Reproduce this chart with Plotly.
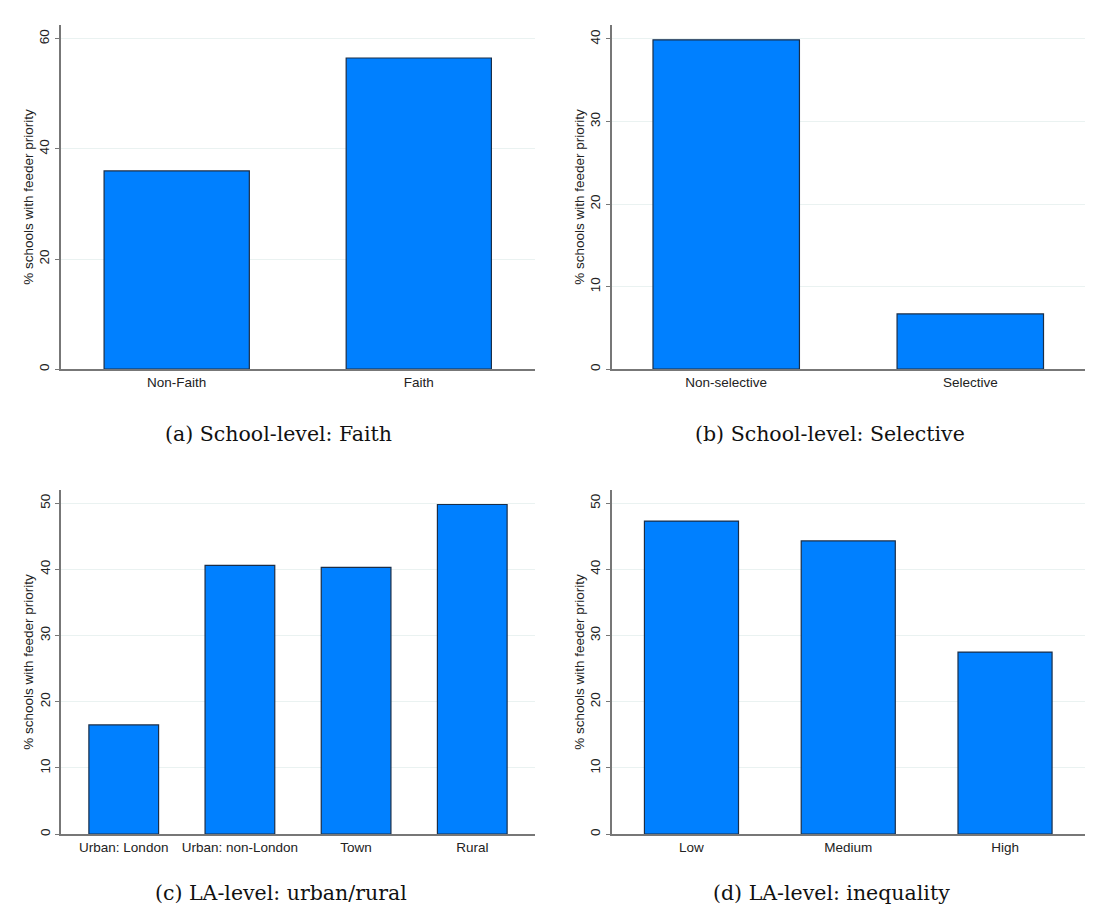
import plotly.graph_objects as go

# Data
faith_cats = ["Non-Faith", "Faith"]
faith_vals = [36.0, 56.5]
sel_cats = ["Non-selective", "Selective"]
sel_vals = [39.9, 6.7]
urb_cats = ["Urban: London", "Urban: non-London", "Town", "Rural"]
urb_vals = [16.5, 40.6, 40.3, 49.8]
ineq_cats = ["Low", "Medium", "High"]
ineq_vals = [47.3, 44.3, 27.5]

captions = ["(a) School-level: Faith", "(b) School-level: Selective",
            "(c) LA-level: urban/rural", "(d) LA-level: inequality"]

# page has 8px body margin -> figure drawn from (8,8)
OFF = 8
W, H = 1093 - 2 * OFF, 915 - 2 * OFF
BAR = "#0080ff"
EDGE = "#1a2e48"
AX = "#777777"
GRID = "#eaf2f1"
FONT = "Liberation Sans, Arial, sans-serif"


def px(v):
    return (v - OFF) / W


def py(v):
    return 1 - (v - OFF) / H


panels = [
    dict(cats=faith_cats, vals=faith_vals, x=(60.5, 535), y=(25, 370), ymax=62.5, dt=20, xr=(-0.48, 1.48)),
    dict(cats=sel_cats, vals=sel_vals, x=(611.5, 1085), y=(25, 370), ymax=41.7, dt=10, xr=(-0.47, 1.47)),
    dict(cats=urb_cats, vals=urb_vals, x=(61, 535), y=(491, 836), ymax=52.0, dt=10, xr=(-0.54, 3.54)),
    dict(cats=ineq_cats, vals=ineq_vals, x=(611.5, 1085), y=(491, 836), ymax=52.0, dt=10, xr=(-0.51, 2.51)),
]

fig = go.Figure()
layout = dict(
    width=W, height=H, margin=dict(l=0, r=0, t=0, b=0),
    paper_bgcolor="white", plot_bgcolor="white", showlegend=False,
    font=dict(family=FONT, color="#222"),
)
for i, p in enumerate(panels):
    n = "" if i == 0 else str(i + 1)
    fig.add_trace(go.Bar(
        x=list(range(len(p["cats"]))), y=p["vals"], width=0.6,
        marker=dict(color=BAR, line=dict(color=EDGE, width=1.2)),
        xaxis="x" + n, yaxis="y" + n, hoverinfo="skip",
    ))
    layout["xaxis" + n] = dict(
        domain=[px(p["x"][0]), px(p["x"][1])], anchor="y" + n,
        range=list(p["xr"]), tickvals=list(range(len(p["cats"]))), ticktext=p["cats"],
        showline=True, linecolor=AX, linewidth=1.5, showgrid=False, zeroline=False,
        ticks="", tickfont=dict(size=13.5, color="#222"), fixedrange=True,
    )
    layout["yaxis" + n] = dict(
        domain=[py(p["y"][1]), py(p["y"][0])], anchor="x" + n,
        range=[0, p["ymax"]], dtick=p["dt"], tick0=0,
        showline=True, linecolor=AX, linewidth=1.5,
        showgrid=True, gridcolor=GRID, gridwidth=1, zeroline=False,
        ticks="outside", ticklen=4, tickcolor=AX, tickwidth=1.2, tickangle=-90,
        tickfont=dict(size=13.5, color="#222"),
        title=dict(text="% schools with feeder priority", font=dict(size=13.5, color="#222"), standoff=1),
    )
fig.update_layout(**layout)

cap_pos = [(278, 435), (830, 435), (281, 895), (831, 895)]
for (cx, cy), txt in zip(cap_pos, captions):
    fig.add_annotation(
        x=px(cx), y=py(cy), xref="paper", yref="paper", text=txt, showarrow=False,
        font=dict(family="DejaVu Serif, serif", size=20.5, color="#111"),
        xanchor="center", yanchor="middle",
    )

fig.write_html("out.html")
